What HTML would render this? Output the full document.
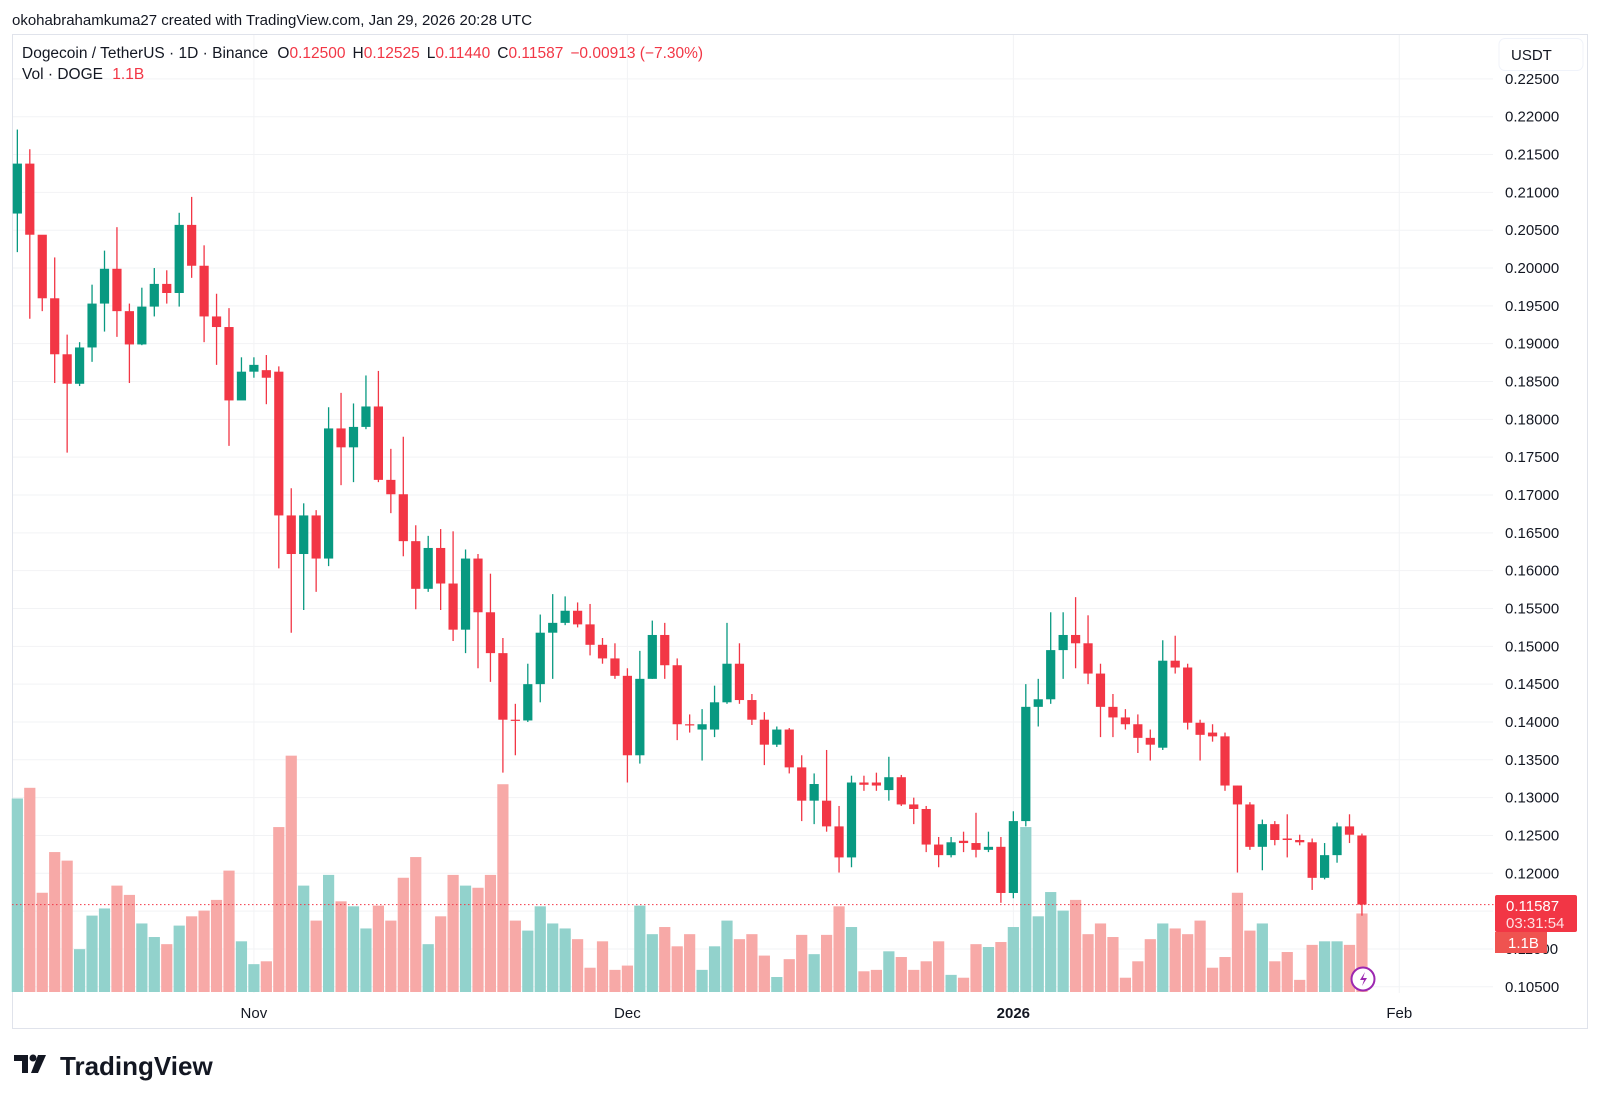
<!DOCTYPE html>
<html><head><meta charset="utf-8"><style>
html,body{margin:0;padding:0;background:#fff;width:1600px;height:1103px;overflow:hidden;font-family:"Liberation Sans",sans-serif}
</style></head><body>
<svg id="c" width="1600" height="1103" viewBox="0 0 1600 1103" xmlns="http://www.w3.org/2000/svg">
<text x="12" y="25" font-size="15" fill="#131722">okohabrahamkuma27 created with TradingView.com, Jan 29, 2026 20:28 UTC</text>
<rect x="12.5" y="34.5" width="1575" height="994" fill="none" stroke="#e0e3eb"/>
<g id="grid"></g><g id="vol"></g><g id="candles"></g><g id="axis"></g>
<line x1="12" x2="1495" y1="904.6" y2="904.6" stroke="#f23645" stroke-dasharray="1.5,2.5"/>
<g font-size="15.5">
<text x="22" y="58" fill="#131722">Dogecoin / TetherUS · 1D · Binance <tspan fill="#131722" dx="5">O</tspan><tspan fill="#f23645">0.12500</tspan><tspan dx="7">H</tspan><tspan fill="#f23645">0.12525</tspan><tspan dx="7">L</tspan><tspan fill="#f23645">0.11440</tspan><tspan dx="7">C</tspan><tspan fill="#f23645">0.11587</tspan><tspan fill="#f23645" dx="7">−0.00913 (−7.30%)</tspan></text>
<text x="22" y="79" fill="#131722">Vol · DOGE <tspan fill="#f23645" dx="5">1.1B</tspan></text>
</g>
<g><rect x="1499" y="38.5" width="84" height="32" rx="6" fill="#fff" stroke="#f0f3fa"/><text x="1511" y="60" font-size="15" fill="#131722">USDT</text></g>
<g><rect x="1495" y="895" width="82" height="37" rx="2" fill="#f23645"/><text x="1506" y="911" font-size="15" fill="#fff">0.11587</text><text x="1506" y="928" font-size="15" fill="#fde0e2">03:31:54</text></g>
<g><rect x="1495" y="932" width="52" height="21" fill="#ef5350"/><text x="1508" y="948" font-size="15" fill="#fff">1.1B</text></g>
<g><circle cx="1363" cy="979" r="11.5" fill="#fff" stroke="#9c27b0" stroke-width="2"/><path d="M1365 972 l-5 8 h4 l-2 6 l5 -8 h-4 z" fill="#9c27b0"/></g>
<g><path d="M14 1055 h14 v18 h-6 v-12 h-8 z" fill="#131722"/><circle cx="33" cy="1058" r="3.5" fill="#131722"/><path d="M38 1055 h8 l-8 18 h-7 z" fill="#131722"/><text x="60" y="1075" font-size="26" font-weight="bold" fill="#131722">TradingView</text></g>
</svg>
<script>
const opens=[.2072,.2138,.2044,.1960,.1886,.1847,.1895,.1953,.1999,.1943,.1899,.1949,.1979,.1967,.2057,.2003,.1936,.1922,.1825,.1863,.1865,.1863,.1673,.1622,.1673,.1616,.1788,.1763,.1790,.1817,.1720,.1701,.1639,.1576,.1630,.1583,.1522,.1616,.1545,.1491,.1403,.1402,.1450,.1518,.1531,.1547,.1529,.1502,.1484,.1461,.1356,.1457,.1515,.1475,.1397,.1390,.1390,.1426,.1477,.1429,.1403,.1370,.1390,.1340,.1296,.1296,.1262,.1221,.1320,.1320,.1310,.1327,.1291,.1285,.1238,.1224,.1243,.1240,.1231,.1235,.1174,.1269,.1420,.1430,.1495,.1515,.1504,.1464,.1420,.1406,.1397,.1379,.1366,.1481,.1472,.1399,.1386,.1381,.1316,.1291,.1235,.1265,.1246,.1244,.1241,.1194,.1224,.1262,.1250];
const highs=[.2183,.2157,.1997,.2014,.1912,.1902,.1978,.2023,.2054,.1953,.1974,.2000,.1997,.2073,.2094,.2030,.1966,.1947,.1882,.1882,.1885,.1870,.1709,.1689,.1680,.1816,.1835,.1821,.1858,.1864,.1761,.1777,.1660,.1646,.1655,.1652,.1628,.1622,.1596,.1511,.1424,.1477,.1542,.1569,.1566,.1558,.1556,.1511,.1504,.1471,.1494,.1534,.1531,.1484,.1410,.1417,.1448,.1531,.1504,.1437,.1413,.1394,.1392,.1356,.1332,.1363,.1289,.1329,.1329,.1333,.1354,.1330,.1300,.1289,.1248,.1248,.1255,.1280,.1255,.1248,.1282,.1450,.1457,.1545,.1545,.1565,.1541,.1477,.1437,.1417,.1410,.1390,.1508,.1514,.1477,.1403,.1397,.1386,.1316,.1294,.1271,.1269,.1278,.1251,.1246,.1240,.1267,.1278,.12525];
const lows=[.2021,.1933,.1943,.1848,.1756,.1844,.1876,.1916,.1909,.1848,.1898,.1936,.1953,.1949,.1987,.1902,.1872,.1765,.1841,.1855,.1820,.1603,.1518,.1548,.1572,.1606,.1713,.1717,.1787,.1717,.1676,.1619,.1549,.1572,.1548,.1507,.1491,.1471,.1453,.1333,.1356,.1400,.1426,.1457,.1528,.1525,.1488,.1477,.1457,.1320,.1345,.1457,.1457,.1376,.1386,.1349,.1380,.1424,.1424,.1396,.1343,.1367,.1332,.1269,.1265,.1255,.1201,.1208,.1309,.1309,.1296,.1289,.1265,.1228,.1208,.1221,.1228,.1221,.1228,.1161,.1167,.1262,.1394,.1424,.1457,.1471,.1450,.1380,.1380,.1390,.1359,.1349,.1363,.1464,.1390,.1349,.1374,.1309,.1201,.1231,.1204,.1237,.1221,.1237,.1178,.1192,.1214,.1240,.1144];
const closes=[.2138,.2044,.1960,.1886,.1847,.1895,.1953,.1999,.1943,.1899,.1949,.1979,.1967,.2057,.2003,.1936,.1922,.1825,.1863,.1872,.1855,.1673,.1622,.1673,.1616,.1788,.1763,.1790,.1817,.1720,.1701,.1639,.1576,.1630,.1583,.1522,.1616,.1545,.1491,.1403,.1402,.1450,.1518,.1531,.1547,.1529,.1502,.1484,.1461,.1356,.1457,.1515,.1475,.1397,.1396,.1397,.1426,.1477,.1429,.1403,.1370,.1390,.1340,.1296,.1318,.1262,.1221,.1320,.1317,.1316,.1327,.1291,.1285,.1238,.1224,.1241,.1240,.1231,.1235,.1174,.1269,.1420,.1430,.1495,.1515,.1504,.1464,.1420,.1406,.1397,.1379,.1370,.1481,.1472,.1399,.1383,.1381,.1316,.1291,.1235,.1265,.1244,.1244,.1241,.1194,.1224,.1262,.1251,.11587];
const volumes=[2.71,2.86,1.39,1.96,1.84,0.60,1.07,1.17,1.49,1.36,0.96,0.77,0.67,0.93,1.06,1.14,1.29,1.70,0.71,0.39,0.43,2.31,3.31,1.49,1.00,1.64,1.27,1.20,0.89,1.21,1.00,1.60,1.89,0.67,1.06,1.64,1.49,1.46,1.64,2.91,1.00,0.86,1.20,0.96,0.89,0.74,0.34,0.71,0.31,0.37,1.21,0.81,0.91,0.64,0.81,0.31,0.64,1.00,0.74,0.81,0.51,0.21,0.46,0.80,0.53,0.80,1.20,0.91,0.29,0.31,0.57,0.49,0.31,0.43,0.71,0.24,0.20,0.67,0.63,0.70,0.91,2.31,1.06,1.40,1.14,1.29,0.81,0.96,0.77,0.20,0.43,0.74,0.96,0.89,0.81,1.00,0.34,0.49,1.39,0.86,0.96,0.43,0.56,0.17,0.66,0.71,0.71,0.66,1.10];
const priceTicks=["0.22500","0.22000","0.21500","0.21000","0.20500","0.20000","0.19500","0.19000","0.18500","0.18000","0.17500","0.17000","0.16500","0.16000","0.15500","0.15000","0.14500","0.14000","0.13500","0.13000","0.12500","0.12000","0.11500","0.11000","0.10500"];
const timeLabels=["Nov","Dec","2026","Feb"];
const timeIndex=[19,49,80,111];

const NS="http://www.w3.org/2000/svg";
const X=i=>17.35+12.45*i;
const Y=p=>116.7+(0.22-p)/0.005*37.83;
const VY=v=>992-v*71.4;
function mk(tag,attrs,parent){const e=document.createElementNS(NS,tag);for(const k in attrs)e.setAttribute(k,attrs[k]);document.getElementById(parent).appendChild(e);return e;}

priceTicks.forEach(t=>{const y=Y(parseFloat(t));
 const l=mk('line',{x1:13,x2:1493,y1:y,y2:y,stroke:'#f2f3f5'},'grid');
 
 
 const tx=mk('text',{x:1505,y:y+5,'font-size':15,fill:'#131722'},'axis');tx.textContent=t;
 
 
});
timeLabels.forEach((t,k)=>{const x=X(timeIndex[k]);
 const l=mk('line',{x1:x,x2:x,y1:35,y2:993,stroke:'#f2f3f5'},'grid');
 
 
 const tx=mk('text',{x:x,y:1018,'font-size':15,fill:'#131722','text-anchor':'middle','font-weight':t==='2026'?'bold':'normal'},'axis');tx.textContent=t;
 
 
});
volumes.forEach((v,i)=>{const up=closes[i]>=opens[i];
 const r=mk('rect',{x:X(i)-5.6,y:VY(v),width:11.2,height:992-VY(v),fill:up?'#92d2cc':'#f7a9a7'},'vol');
 
 
});
opens.forEach((o,i)=>{const c=closes[i],up=c>=o,col=up?'#089981':'#f23645';
 const w=mk('line',{x1:X(i),x2:X(i),y1:Y(highs[i]),y2:Y(lows[i]),stroke:col,'stroke-width':1.3},'candles');
 
 
 const top=Y(Math.max(o,c)),h=Math.max(1.2,Math.abs(Y(o)-Y(c)));
 const b=mk('rect',{x:X(i)-4.6,y:top,width:9.2,height:h,fill:col},'candles');
 
 
});
</script>
</body></html>
